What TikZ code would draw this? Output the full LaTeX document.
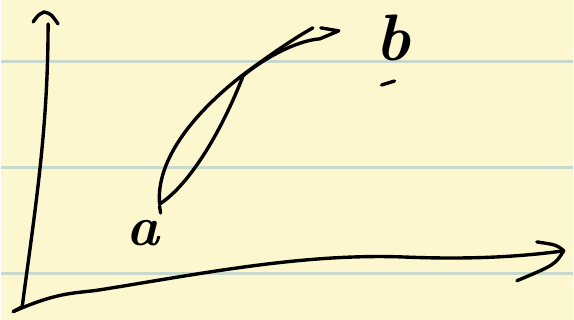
\documentclass[tikz,border=0pt]{standalone}
\usepackage{fontspec}
\usetikzlibrary{calc}
\definecolor{paper}{HTML}{FCF7CF}
\definecolor{ruled}{HTML}{C6D9CC}

\begin{document}
\begin{tikzpicture}[x=1pt,y=-1pt,
      pen/.style={line width=3.4pt,line cap=round,line join=round},
      lbl/.style={inner sep=0pt,font=\fontsize{56}{56}\selectfont\bfseries\itshape}]
    \fill[paper] (0,0) rectangle (574,321);
    \foreach \y in {62,168,275}{\draw[ruled,line width=2.6pt] (0,\y) -- (574,\y);}
    \coordinate (o) at (21,308); \coordinate (yt) at (43,12); \coordinate (xt) at (565,252);
    \coordinate (pa) at (159,205); \coordinate (pb) at (339,31);
    \node[lbl](la) at (142,234){a};
    \node[lbl,font=\fontsize{66}{66}\selectfont\bfseries\itshape](lb) at (393,38){b};
    % axes
    \draw[pen] (12,313) -- (o) .. controls (34,210) and (47,130) .. (47,24);
    \draw[pen] (32,22) .. controls (37,15) .. (yt) .. controls (50,14) .. (57,24);
    \draw[pen] (12,313) .. controls (60,292) and (75,295) .. (100,291)
      .. controls (200,275) and (300,255) .. (400,258) .. controls (470,261) and (520,258) .. (xt);
    \draw[pen] (538,243) .. controls (558,246) .. (xt) .. controls (556,266) .. (518,282);
    % loop
    \draw[pen] (pa) .. controls (155,160) and (195,112) .. (243,75) .. controls (270,55) and (295,38) .. (313,28);
    \draw[pen] (pa) .. controls (190,185) and (222,130) .. (243,76) .. controls (262,60) and (295,41) .. (320,39)
      -- (pb) -- (321,28);
    \draw[pen] ([yshift=-2pt]pa) -- ([xshift=1pt,yshift=-9pt]pa);
    \draw[pen] ([xshift=-11pt,yshift=-24pt]lb.south) -- ([xshift=2pt,yshift=-20pt]lb.south);
  \end{tikzpicture}
\end{document}
